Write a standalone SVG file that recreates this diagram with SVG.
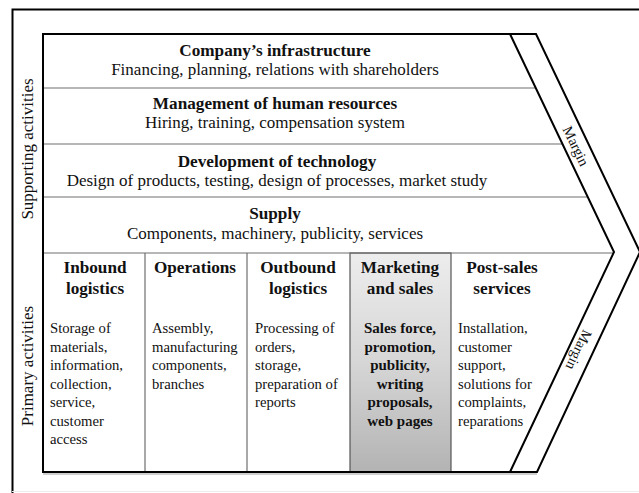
<svg xmlns="http://www.w3.org/2000/svg" width="639" height="493" viewBox="0 0 639 493">
<defs>
<linearGradient id="mk" x1="0" y1="0" x2="0" y2="1">
<stop offset="0" stop-color="#ededed"/>
<stop offset="0.5" stop-color="#d6d6d6"/>
<stop offset="1" stop-color="#b3b3b3"/>
</linearGradient>
</defs>
<style>
text{font-family:"Liberation Serif","Times New Roman",serif;fill:#111}
.t{font-size:17.2px;font-weight:bold;text-anchor:middle}
.s{font-size:17px;text-anchor:middle}
.b{font-size:14.7px}
.bb{font-size:15px;font-weight:bold;text-anchor:middle}
.side{font-size:17px;text-anchor:middle}
.mg{font-size:14.5px;text-anchor:middle}
.sep{stroke:#6f6f6f;stroke-width:1.2;fill:none}
.blk{stroke:#000;stroke-width:2;fill:none}
</style>
<rect width="639" height="493" fill="#fff"/>
<g id="frame">
<path class="blk" d="M12.5,493 V9.5 H640"/>
<line x1="12" y1="491.5" x2="639" y2="491.5" stroke="#ececec" stroke-width="1"/>
</g>
<g id="marketing-bg">
<rect x="350" y="253" width="101" height="219" fill="url(#mk)" stroke="#555" stroke-width="1.2"/>
</g>
<g id="connectors">
<line x1="43" y1="474" x2="537" y2="474" stroke="#cfcfcf" stroke-width="2"/>
<path class="sep" d="M43,88 H536 M43,144 H562.5 M43,197 H588 M43,253 H614"/>
<path class="sep" d="M145,253 V472 M247,253 V472"/>
<path class="blk" d="M43,34 H536 L640,252 L537,472 H43 Z" stroke-width="2.2"/>
<path class="blk" d="M510,34 L614,252 L510,472"/>
</g>
<g id="side-labels">
<text class="side" transform="translate(33,149) rotate(-90)">Supporting activities</text>
<text class="side" transform="translate(33,366) rotate(-90)">Primary activities</text>
</g>
<g id="infrastructure">
<text class="t" x="275" y="56">Company’s infrastructure</text>
<text class="s" x="275" y="75">Financing, planning, relations with shareholders</text>
</g>
<g id="human-resources">
<text class="t" x="275" y="109">Management of human resources</text>
<text class="s" x="275" y="128">Hiring, training, compensation system</text>
</g>
<g id="technology">
<text class="t" x="277" y="167">Development of technology</text>
<text class="s" x="277" y="186">Design of products, testing, design of processes, market study</text>
</g>
<g id="supply">
<text class="t" x="275" y="219">Supply</text>
<text class="s" x="275" y="239">Components, machinery, publicity, services</text>
</g>
<g id="inbound">
<text class="t" x="95" y="273">Inbound</text>
<text class="t" x="95" y="294">logistics</text>
<text class="b" x="50" y="333">Storage of</text>
<text class="b" x="50" y="351.5">materials,</text>
<text class="b" x="50" y="370">information,</text>
<text class="b" x="50" y="388.5">collection,</text>
<text class="b" x="50" y="407">service,</text>
<text class="b" x="50" y="425.5">customer</text>
<text class="b" x="50" y="444">access</text>
</g>
<g id="operations">
<text class="t" x="195" y="273">Operations</text>
<text class="b" x="152" y="333">Assembly,</text>
<text class="b" x="152" y="351.5">manufacturing</text>
<text class="b" x="152" y="370">components,</text>
<text class="b" x="152" y="388.5">branches</text>
</g>
<g id="outbound">
<text class="t" x="298" y="273">Outbound</text>
<text class="t" x="298" y="294">logistics</text>
<text class="b" x="255" y="333">Processing of</text>
<text class="b" x="255" y="351.5">orders,</text>
<text class="b" x="255" y="370">storage,</text>
<text class="b" x="255" y="388.5">preparation of</text>
<text class="b" x="255" y="407">reports</text>
</g>
<g id="marketing">
<text class="t" x="400" y="273">Marketing</text>
<text class="t" x="400" y="294">and sales</text>
<text class="bb" x="400" y="333">Sales force,</text>
<text class="bb" x="400" y="351.5">promotion,</text>
<text class="bb" x="400" y="370">publicity,</text>
<text class="bb" x="400" y="388.5">writing</text>
<text class="bb" x="400" y="407">proposals,</text>
<text class="bb" x="400" y="425.5">web pages</text>
</g>
<g id="post-sales">
<text class="t" x="502" y="273">Post-sales</text>
<text class="t" x="502" y="294">services</text>
<text class="b" x="458" y="333">Installation,</text>
<text class="b" x="458" y="351.5">customer</text>
<text class="b" x="458" y="370">support,</text>
<text class="b" x="458" y="388.5">solutions for</text>
<text class="b" x="458" y="407">complaints,</text>
<text class="b" x="458" y="425.5">reparations</text>
</g>
<g id="margin">
<text class="mg" transform="translate(576,146) rotate(64.5) translate(0,5)">Margin</text>
<text class="mg" transform="translate(579,350) rotate(115) translate(0,5)">Margin</text>
</g>
</svg>
